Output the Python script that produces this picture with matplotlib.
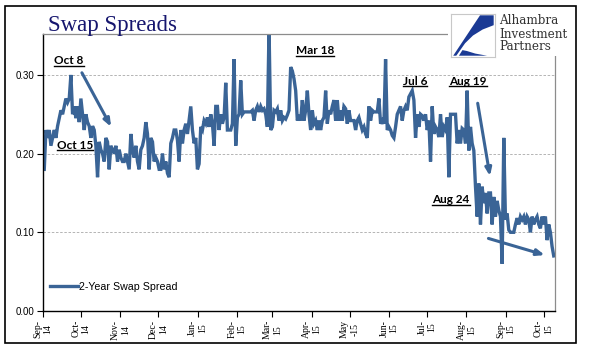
import numpy as np
import pandas as pd
import matplotlib
matplotlib.use('Agg')
import matplotlib.pyplot as plt
from matplotlib.patches import Rectangle, Polygon
from matplotlib.lines import Line2D
from matplotlib.transforms import IdentityTransform

#%% DATA - 2-year swap spread, daily, Sep 2014 -> Oct 2015
start_date = '2014-09-02'
end_date = '2015-10-09'

sep_oct_14 = [0.18, 0.23, 0.22, 0.23, 0.21, 0.22, 0.23, 0.22, 0.235, 0.245, 0.255, 0.25, 0.26, 0.27,
              0.265, 0.27, 0.30, 0.25, 0.26, 0.245, 0.26, 0.24, 0.27, 0.25, 0.23, 0.25, 0.24, 0.235,
              0.22, 0.235, 0.23, 0.21]
nov_dec_14 = [0.17, 0.215, 0.205, 0.20, 0.19, 0.22, 0.215, 0.18, 0.21, 0.205, 0.20, 0.21, 0.19, 0.205,
              0.195, 0.19, 0.19, 0.20, 0.19, 0.18, 0.225, 0.205, 0.195, 0.21, 0.19, 0.18, 0.205, 0.21,
              0.22, 0.24, 0.225, 0.18, 0.22, 0.215, 0.19, 0.195, 0.19, 0.18, 0.18, 0.20, 0.18, 0.19,
              0.175, 0.17]
jan_mar_15 = [0.213, 0.22, 0.23, 0.23, 0.217, 0.19, 0.23, 0.213, 0.23, 0.238, 0.225, 0.242, 0.26, 0.23,
              0.213, 0.22, 0.18, 0.187, 0.234, 0.23, 0.242, 0.238, 0.246, 0.234, 0.25, 0.238, 0.21,
              0.26, 0.26, 0.23, 0.25, 0.238, 0.246, 0.29, 0.23, 0.23, 0.23, 0.238, 0.32, 0.21, 0.246,
              0.25, 0.293, 0.25, 0.253, 0.253, 0.253, 0.253, 0.253, 0.255, 0.242, 0.255, 0.26, 0.253,
              0.26, 0.255, 0.257, 0.25, 0.234, 0.36, 0.23, 0.234, 0.255, 0.253, 0.257, 0.242, 0.255,
              0.242, 0.246, 0.244, 0.249, 0.255]
mar_jul_15 = [0.31, 0.305, 0.295, 0.28, 0.242, 0.249, 0.242, 0.268, 0.242, 0.255, 0.28, 0.25, 0.23,
              0.255, 0.238, 0.242, 0.23, 0.242, 0.23, 0.242, 0.246, 0.28, 0.238, 0.255, 0.25, 0.26,
              0.268, 0.242, 0.268, 0.242, 0.255, 0.242, 0.26, 0.257, 0.238, 0.255, 0.242, 0.242, 0.242,
              0.23, 0.242, 0.246, 0.238, 0.23, 0.234, 0.225, 0.22, 0.26, 0.242, 0.255, 0.253, 0.253,
              0.253, 0.27, 0.238, 0.242, 0.238, 0.32, 0.23, 0.234, 0.23, 0.223, 0.22, 0.234, 0.25,
              0.255, 0.26, 0.242, 0.255, 0.26, 0.255, 0.272, 0.276, 0.28, 0.268, 0.22]
jul_oct_15 = [0.25, 0.234, 0.25, 0.248, 0.242, 0.25, 0.23, 0.242, 0.19, 0.26, 0.225, 0.234, 0.23, 0.221,
              0.25, 0.221, 0.234, 0.23, 0.246, 0.17, 0.25, 0.25, 0.25, 0.25, 0.213, 0.23, 0.213, 0.232,
              0.23, 0.213, 0.28, 0.204, 0.234, 0.213, 0.204, 0.158, 0.12, 0.162, 0.11, 0.158, 0.137,
              0.15, 0.124, 0.15, 0.15, 0.11, 0.145, 0.12, 0.14, 0.128, 0.12, 0.06, 0.22, 0.116, 0.124,
              0.103, 0.10, 0.10, 0.10, 0.11, 0.118, 0.11, 0.12, 0.116, 0.12, 0.11, 0.12, 0.116, 0.10,
              0.12, 0.11, 0.116, 0.12, 0.11, 0.105, 0.12, 0.11, 0.12, 0.09, 0.11, 0.10, 0.082, 0.07]

spread = np.array(sep_oct_14 + nov_dec_14 + jan_mar_15 + mar_jul_15 + jul_oct_15)
dates = pd.date_range(start_date, end_date, periods=len(spread))

month_ticks = pd.date_range('2014-09-01', '2015-10-01', freq='MS')
month_labels = ['Sep-\n14', 'Oct-\n14', 'Nov-\n14', 'Dec-\n14', 'Jan-\n15', 'Feb-\n15', 'Mar-\n15',
                'Apr-\n15', 'May\n-15', 'Jun-\n15', 'Jul-\n15', 'Aug-\n15', 'Sep-\n15', 'Oct-\n15']
y_ticks = [0.0, 0.1, 0.2, 0.3]

# annotations: label, position (axes fraction)
notes = [('Oct 8', 0.051, 0.903), ('Oct 15', 0.063, 0.599), ('Mar 18', 0.531, 0.939),
         ('Jul 6', 0.727, 0.830), ('Aug 19', 0.830, 0.830), ('Aug 24', 0.797, 0.401)]
arrows = [((0.076, 0.860), (0.133, 0.665)),
          ((0.849, 0.750), (0.873, 0.487)),
          ((0.870, 0.262), (0.980, 0.202))]

line_color = '#3a6496'

#%% FIGURE
fig = plt.figure(figsize=(5.98, 3.61), dpi=100)
ax = fig.add_axes([0.0719, 0.1385, 0.8562, 0.7673])

ax.plot(dates, spread, color=line_color, lw=2.4, solid_joinstyle='miter', label='2-Year Swap Spread')

ax.set_xlim(pd.Timestamp('2014-09-01'), pd.Timestamp('2015-10-10'))
ax.set_ylim(0, 0.352)
ax.set_yticks(y_ticks)
ax.set_yticklabels([f'{v:.2f}' for v in y_ticks], fontsize=7, family='Liberation Sans')
ax.set_xticks(month_ticks)
ax.set_xticklabels(month_labels, rotation=90, fontsize=7, family='Liberation Serif',
                   ha='center', va='top', linespacing=1.15)
ax.tick_params(axis='both', direction='out', length=4, width=0.8, pad=2)
ax.tick_params(axis='x', pad=2.5)

ax.grid(axis='y', color='#a8a8a8', linestyle=(0, (3, 2)), lw=0.6)
ax.set_axisbelow(True)

for s in ['left', 'bottom']:
    ax.spines[s].set_color('black')
    ax.spines[s].set_linewidth(1.0)
for s in ['top', 'right']:
    ax.spines[s].set_color('#8c8c8c')
    ax.spines[s].set_linewidth(0.9)

leg = ax.legend(loc='center left', bbox_to_anchor=(0.0137, 0.0866), frameon=False,
                handlelength=2.6, handletextpad=0.1, borderpad=0, borderaxespad=0,
                prop={'family': 'Liberation Sans', 'size': 7.7})

# annotation labels and arrows
note_texts = []
for lab, xf, yf in notes:
    t = ax.text(xf, yf, lab, transform=ax.transAxes, ha='center', va='center',
                fontsize=8.5, fontweight='bold', family='Lato', color='black')
    note_texts.append(t)
for (x0, y0), (x1, y1) in arrows:
    ax.annotate('', xy=(x1, y1), xycoords='axes fraction', xytext=(x0, y0), textcoords='axes fraction',
                arrowprops=dict(arrowstyle='-|>,head_length=0.45,head_width=0.18', color=line_color,
                                lw=2.2, shrinkA=0, shrinkB=0))

#%% TITLE, LOGO, FRAME
# white patch hides the axes corner behind the logo
fig.add_artist(Rectangle((448 / 598, 1 - 56 / 361), 127 / 598, 49 / 361, transform=fig.transFigure,
                         facecolor='white', edgecolor='none', zorder=2))
fig.text(48 / 598, 1 - 31 / 361, 'Swap Spreads', fontsize=16.5, family='Liberation Serif',
         color='#16166e', va='baseline', ha='left', zorder=3)

logo = fig.add_axes([451 / 598, 1 - 57 / 361, 44 / 598, 43 / 361], zorder=5)
logo.set_xlim(0, 1)
logo.set_ylim(0, 1)
logo.set_xticks([])
logo.set_yticks([])
for s in logo.spines.values():
    s.set_color('#c8c8c8')
    s.set_linewidth(0.8)
logo_blue = '#1b3a94'
logo.add_patch(Polygon([(0.66, 0.97), (0.97, 0.97), (0.97, 0.74), (0.72, 0.64), (0.50, 0.50),
                        (0.32, 0.32), (0.12, 0.03), (0.05, 0.03)], closed=True,
                       facecolor=logo_blue, edgecolor='none'))
logo.add_patch(Polygon([(0.18, 0.03), (0.26, 0.16), (0.36, 0.14), (0.55, 0.08), (0.82, 0.03)],
                       closed=True, facecolor=logo_blue, edgecolor='none'))

for txt, yp in [('Alhambra', 21), ('Investment', 34), ('Partners', 47)]:
    fig.text(499 / 598, 1 - yp / 361, txt, fontsize=8.6, family='DejaVu Serif', color='#333333',
             ha='left', va='center', zorder=6)

fig.add_artist(Rectangle((5 / 598, 1 - 343 / 361), 571 / 598, 337 / 361, transform=fig.transFigure,
                         fill=False, edgecolor='black', lw=1.2, zorder=7))

# underline the annotation labels (no underline option in matplotlib text)
fig.canvas.draw()
renderer = fig.canvas.get_renderer()
for t in note_texts:
    bb = t.get_window_extent(renderer)
    fig.add_artist(Line2D([bb.x0, bb.x1], [bb.y0 + 0.5, bb.y0 + 0.5], transform=IdentityTransform(),
                          color='black', lw=1.0, zorder=8))

fig.savefig('out.png', dpi=100)
